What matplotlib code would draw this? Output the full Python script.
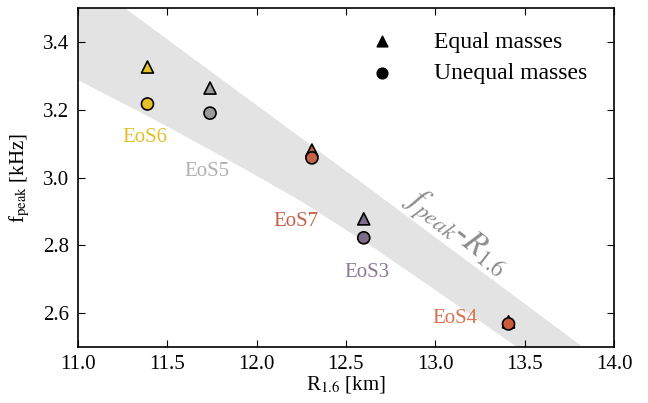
import numpy as np
from matplotlib import pyplot as plt

plt.rcParams['font.family'] = ['Liberation Serif', 'DejaVu Serif']
plt.rcParams['mathtext.fontset'] = 'stix'

# data
eos_names = ['EoS6', 'EoS5', 'EoS7', 'EoS3', 'EoS4']
radius = [11.39, 11.74, 12.31, 12.60, 13.41]
f_equal = [3.326, 3.264, 3.081, 2.878, 2.574]
f_unequal = [3.217, 3.190, 3.058, 2.822, 2.568]
marker_colors = ['#e2c12a', '#9a9a9a', '#c4624a', '#7d6c8a', '#cc5c3c']
label_colors = ['#e0c12a', '#b0b0b0', '#c4624a', '#8a7a98', '#d8704e']
label_R = [11.375, 11.72, 12.22, 12.617, 13.11]
label_f = [3.117, 3.019, 2.869, 2.721, 2.585]

# band edges
band_upper_R = [11.0, 11.263, 12.55, 13.826]
band_upper_f = [3.5, 3.5, 3.0, 2.5]
band_lower_R = [11.0, 11.45, 11.85, 12.25, 12.65, 13.05, 13.457]
band_lower_f = [3.288, 3.165, 3.050, 2.930, 2.795, 2.650, 2.5]

fig = plt.figure(figsize=(6.48, 4.03), dpi=100)
ax = fig.add_axes([0.120, 0.139, 0.8275, 0.841])

poly_R = band_upper_R + band_lower_R[::-1]
poly_f = band_upper_f + band_lower_f[::-1]
ax.fill(poly_R, poly_f, color='#e3e3e3', lw=0, zorder=1)

ax.scatter(radius, f_equal, marker='^', s=75, c=marker_colors,
           edgecolors='k', linewidths=1.2, zorder=3)
ax.scatter(radius, f_unequal, marker='o', s=75, c=marker_colors,
           edgecolors='k', linewidths=1.2, zorder=3)

for i, name in enumerate(eos_names):
    ax.text(label_R[i], label_f[i], name, color=label_colors[i], fontsize=15,
            ha='center', va='center', zorder=2)

ax.text(13.12, 2.835, r'$f_{peak}$-$R_{1.6}$', color='#8c8c8c', fontsize=24,
        rotation=-38, ha='center', va='center', zorder=2)

# legend with black proxies
ax.scatter([], [], marker='^', s=60, c='k', label='Equal masses')
ax.scatter([], [], marker='o', s=60, c='k', label='Unequal masses')
ax.legend(loc='upper right', frameon=False, fontsize=17, scatterpoints=1,
          handletextpad=1.2, labelspacing=0.42, bbox_to_anchor=(0.99, 0.995))

ax.set_xlim(11.0, 14.0)
ax.set_ylim(2.5, 3.5)
ax.set_xticks(np.arange(11.0, 14.01, 0.5))
ax.set_yticks(np.arange(2.6, 3.41, 0.2))
ax.tick_params(direction='in', top=True, right=True, labelsize=15, length=5, pad=6)
for s in ax.spines.values():
    s.set_linewidth(1.2)

ax.set_xlabel(r'R$_{1.6}$ [km]', fontsize=15, labelpad=0)
ax.set_ylabel(r'f$_{\rm peak}$ [kHz]', fontsize=15, labelpad=8)

fig.savefig('out.png', dpi=100)
